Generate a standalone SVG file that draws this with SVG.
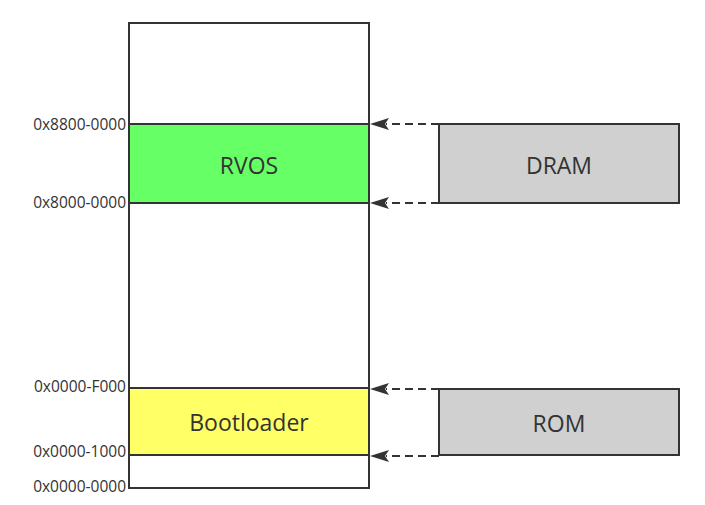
<svg xmlns="http://www.w3.org/2000/svg" width="705" height="505" viewBox="0 0 705 505">
<defs>
<style>
.box{stroke:#333;stroke-width:2}
.lbl{font-family:"Open Sans","Noto Sans",sans-serif;font-size:23px;fill:#333;text-anchor:middle;dominant-baseline:central}
.addr{font-family:"Open Sans","Noto Sans",sans-serif;font-size:15.5px;fill:#333;text-anchor:end;dominant-baseline:central}
.conn{stroke:#333;stroke-width:2;stroke-dasharray:8 5;fill:none}
.head{fill:#333}
</style>
</defs>
<g id="memory">
<rect class="box" x="129" y="23" width="240" height="465" fill="#fff"/>
</g>
<g id="rvos">
<rect class="box" x="129" y="124" width="240" height="79" fill="#66ff66"/>
<text class="lbl" x="249" y="165">RVOS</text>
</g>
<g id="bootloader">
<rect class="box" x="129" y="388" width="240" height="67" fill="#ffff66"/>
<text class="lbl" x="249" y="422">Bootloader</text>
</g>
<g id="dram">
<rect class="box" x="439" y="124" width="240" height="79" fill="#d0d0d0"/>
<text class="lbl" x="559" y="165">DRAM</text>
</g>
<g id="rom">
<rect class="box" x="439" y="389" width="240" height="66" fill="#d0d0d0"/>
<text class="lbl" x="559" y="423">ROM</text>
</g>
<g id="addresses">
<text class="addr" x="126" y="124">0x8800-0000</text>
<text class="addr" x="126" y="202">0x8000-0000</text>
<text class="addr" x="126" y="386">0x0000-F000</text>
<text class="addr" x="126" y="451">0x0000-1000</text>
<text class="addr" x="126" y="486">0x0000-0000</text>
</g>
<g id="connectors">
<line class="conn" x1="439" y1="124" x2="386" y2="124"/>
<path class="head" d="M370,124 L389,118 L385,124 L389,130 Z"/>
<line class="conn" x1="439" y1="203" x2="386" y2="203"/>
<path class="head" d="M370,203 L389,197 L385,203 L389,209 Z"/>
<line class="conn" x1="439" y1="389" x2="386" y2="389"/>
<path class="head" d="M370,389 L389,383 L385,389 L389,395 Z"/>
<line class="conn" x1="439" y1="456" x2="386" y2="456"/>
<path class="head" d="M370,456 L389,450 L385,456 L389,462 Z"/>
</g>
</svg>
